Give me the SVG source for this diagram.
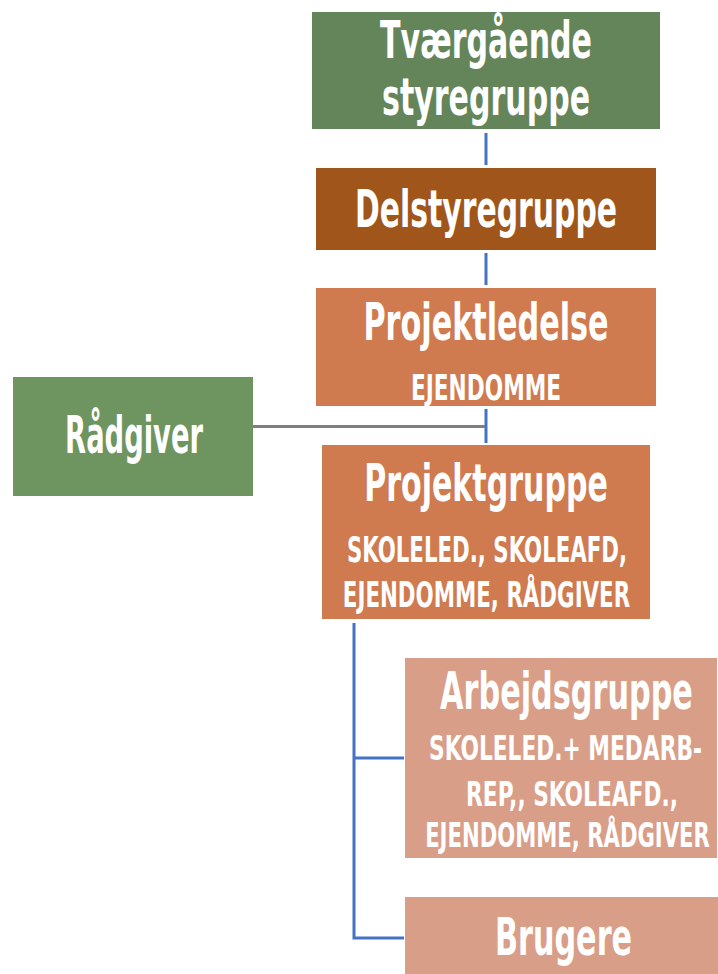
<svg xmlns="http://www.w3.org/2000/svg" width="718" height="974" viewBox="0 0 718 974">
<style>
text{font-family:"Liberation Sans Narrow","DejaVu Sans Condensed","Liberation Sans",sans-serif;font-weight:bold;fill:#FFFFFF;text-anchor:middle}
.t{font-size:52px}
.s{font-size:36px}
.a{font-size:33px}
.blue{stroke:#4472C4;stroke-width:3;fill:none}
.gray{stroke:#7F7F7F;stroke-width:3;fill:none}
</style>
<rect width="718" height="974" fill="#FFFFFF"/>
<g id="connectors">
<line class="blue" x1="486" y1="133" x2="486" y2="165"/>
<line class="blue" x1="486" y1="253" x2="486" y2="285"/>
<line class="blue" x1="486" y1="409" x2="486" y2="443"/>
<line class="gray" x1="253" y1="426.5" x2="485" y2="426.5"/>
<polyline class="blue" points="354,623 354,938 404,938"/>
<line class="blue" x1="354" y1="758" x2="404" y2="758"/>
</g>
<g id="tvaergaende">
<rect x="312" y="12" width="348" height="117" fill="#64845A"/>
<text class="t" transform="translate(486,58) scale(0.65,1)" textLength="326" lengthAdjust="spacingAndGlyphs">Tværgående</text>
<text class="t" transform="translate(486,115) scale(0.65,1)" textLength="320" lengthAdjust="spacingAndGlyphs">styregruppe</text>
</g>
<g id="delstyregruppe">
<rect x="316" y="168" width="340" height="82" fill="#A0561A"/>
<text class="t" transform="translate(486,227) scale(0.65,1)" textLength="403" lengthAdjust="spacingAndGlyphs">Delstyregruppe</text>
</g>
<g id="projektledelse">
<rect x="316" y="288" width="340" height="118" fill="#D07A50"/>
<text class="t" transform="translate(486,340) scale(0.65,1)" textLength="377" lengthAdjust="spacingAndGlyphs">Projektledelse</text>
<text class="s" transform="translate(486,400) scale(0.65,1)" textLength="231" lengthAdjust="spacingAndGlyphs">EJENDOMME</text>
</g>
<g id="raadgiver">
<rect x="13" y="377" width="240" height="119" fill="#6E9460"/>
<text class="t" transform="translate(134,453) scale(0.65,1)" textLength="212" lengthAdjust="spacingAndGlyphs">Rådgiver</text>
</g>
<g id="projektgruppe">
<rect x="322" y="445" width="328" height="174" fill="#D07A50"/>
<text class="t" transform="translate(486,501) scale(0.65,1)" textLength="375" lengthAdjust="spacingAndGlyphs">Projektgruppe</text>
<text class="s" transform="translate(487,562) scale(0.65,1)" textLength="431" lengthAdjust="spacingAndGlyphs">SKOLELED., SKOLEAFD,</text>
<text class="s" transform="translate(486.5,607) scale(0.65,1)" textLength="442" lengthAdjust="spacingAndGlyphs">EJENDOMME, RÅDGIVER</text>
</g>
<g id="arbejdsgruppe">
<rect x="405" y="658" width="312" height="200" fill="#D99E88"/>
<text class="t" transform="translate(566.5,709) scale(0.65,1)" textLength="389" lengthAdjust="spacingAndGlyphs">Arbejdsgruppe</text>
<text class="a" transform="translate(565.5,760) scale(0.65,1)" textLength="420" lengthAdjust="spacingAndGlyphs">SKOLELED.+ MEDARB-</text>
<text class="a" transform="translate(572,806) scale(0.65,1)" textLength="326" lengthAdjust="spacingAndGlyphs">REP,, SKOLEAFD.,</text>
<text class="a" transform="translate(567.5,847) scale(0.65,1)" textLength="438" lengthAdjust="spacingAndGlyphs">EJENDOMME, RÅDGIVER</text>
</g>
<g id="brugere">
<rect x="405" y="897" width="313" height="77" fill="#D99E88"/>
<text class="t" transform="translate(563.5,955) scale(0.65,1)" textLength="211" lengthAdjust="spacingAndGlyphs">Brugere</text>
</g>
</svg>
